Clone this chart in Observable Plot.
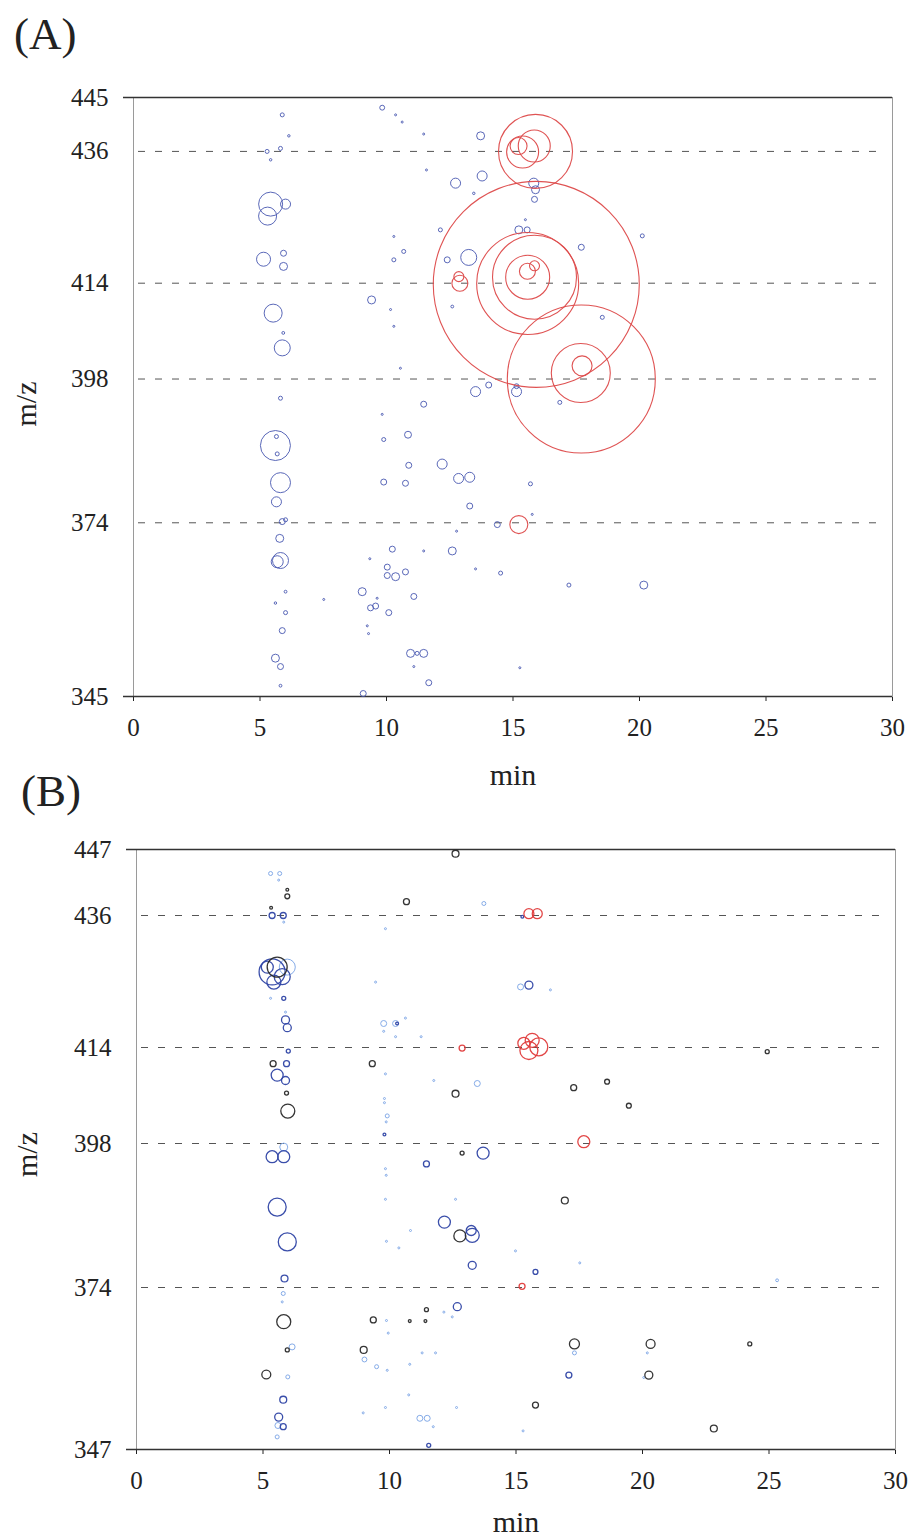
<!DOCTYPE html>
<html>
<head>
<meta charset="utf-8">
<script src="https://cdn.jsdelivr.net/npm/d3@7"></script>
<script src="https://cdn.jsdelivr.net/npm/@observablehq/plot@0.6"></script>
<style>
  html, body { margin: 0; padding: 0; background: #fff; }
  #page { position: relative; width: 911px; height: 1538px; overflow: hidden; font-family: "Liberation Serif", "Times New Roman", serif; }
  .tag { position: absolute; font-size: 45px; color: #222; line-height: 1; z-index: 5; }
  .panel { position: absolute; left: 0; z-index: 1; }
</style>
</head>
<body>
<div id="page">
  <div id="panelA" class="panel" style="top:0px;"></div>
  <div id="panelB" class="panel" style="top:790px;"></div>
  <div class="tag" style="left:14px; top:12px;">(A)</div>
  <div class="tag" style="left:21px; top:769px;">(B)</div>
</div>
<script>
// ---------- axes / reference values ----------
const xTicks = [0, 5, 10, 15, 20, 25, 30];
const yTicksA = [445, 436, 414, 398, 374, 345];
const yTicksB = [447, 436, 414, 398, 374, 347];
const refLines = [436, 414, 398, 374];

// ---------- Panel A : [min, m/z, intensity] ----------
const A_red = [
  [15.89, 436.0, 1369], [15.38, 435.9, 256], [15.84, 436.9, 256], [15.22, 436.9, 72],
  [15.92, 413.8, 10609], [15.58, 413.95, 2601], [15.85, 415.0, 1764], [15.58, 415.0, 484],
  [15.57, 416.0, 64], [15.85, 416.9, 25], [12.90, 414.0, 64], [12.86, 415.1, 25],
  [17.70, 398.0, 5476], [17.68, 399.0, 870], [17.73, 400.2, 100],
  [15.23, 373.7, 81]
];
const A_blue = [
  [5.88, 442.1, 4], [6.14, 438.6, 1.5], [5.28, 436.0, 4], [5.81, 436.5, 4], [5.42, 434.6, 1.5],
  [5.42, 427.2, 144], [6.01, 427.2, 25], [5.30, 425.2, 81], [5.14, 418.0, 49], [5.93, 419.0, 9],
  [5.93, 416.8, 16], [5.52, 409.0, 81], [5.92, 405.7, 2], [5.88, 403.2, 64], [5.81, 394.8, 4],
  [5.61, 386.9, 225], [5.65, 388.4, 4], [5.68, 385.5, 4], [5.81, 380.7, 100], [5.65, 377.5, 25],
  [5.88, 374.2, 9], [6.01, 374.5, 4], [5.78, 371.4, 16], [5.81, 367.7, 64], [5.68, 367.5, 36],
  [6.01, 362.5, 2], [5.61, 360.6, 1.5], [6.01, 359.0, 4], [5.88, 356.0, 9], [5.61, 351.4, 16],
  [5.81, 350.0, 9], [5.81, 346.8, 2],
  [9.83, 443.3, 6], [10.36, 442.1, 1], [10.62, 440.9, 1], [11.47, 438.9, 1], [13.72, 438.6, 16],
  [12.73, 430.7, 25], [13.78, 431.9, 25], [13.45, 429.0, 1.5], [15.82, 430.7, 25], [15.89, 429.6, 16],
  [15.85, 428.0, 9], [15.23, 422.9, 16], [15.56, 422.9, 9], [15.49, 424.6, 1], [11.58, 432.9, 1],
  [12.13, 422.9, 4], [10.29, 421.8, 1], [10.68, 419.3, 4], [10.29, 417.9, 4], [12.40, 417.9, 9],
  [13.25, 418.3, 64], [9.41, 411.2, 16], [12.60, 410.1, 2], [10.16, 409.6, 1], [10.29, 406.8, 1],
  [10.55, 399.8, 1], [18.53, 408.3, 4], [20.11, 421.9, 4], [17.70, 420.0, 9], [9.83, 392.1, 1],
  [11.47, 393.8, 9], [13.52, 395.9, 25], [14.04, 397.0, 9], [15.14, 395.9, 25], [15.14, 396.8, 6],
  [16.85, 394.1, 4], [9.89, 387.9, 4], [10.85, 388.7, 12], [12.20, 383.8, 25], [10.88, 383.6, 9],
  [9.89, 380.8, 9], [10.75, 380.6, 9], [12.85, 381.4, 25], [13.29, 381.6, 25], [13.29, 376.8, 9],
  [15.69, 380.5, 4], [15.76, 375.4, 1], [14.38, 373.7, 9], [12.77, 372.6, 1], [12.60, 369.3, 16],
  [13.52, 366.3, 1], [14.51, 365.6, 4], [17.21, 363.6, 4], [20.17, 363.6, 16], [15.27, 349.8, 1],
  [10.23, 369.6, 9], [11.47, 369.3, 1], [9.34, 368.0, 1], [10.03, 366.6, 9], [10.36, 365.0, 16],
  [10.75, 365.8, 9], [10.03, 365.2, 9], [11.08, 361.7, 9], [9.04, 362.5, 16], [9.63, 361.4, 1],
  [9.37, 359.8, 9], [9.57, 360.1, 9], [10.09, 359.0, 9], [9.24, 356.8, 1], [9.29, 355.5, 1],
  [7.52, 361.2, 1], [10.95, 352.2, 16], [11.47, 352.2, 16], [11.21, 352.2, 4], [11.08, 350.0, 1],
  [11.67, 347.3, 9], [9.08, 345.5, 9]
];

// ---------- Panel B : [min, m/z, intensity] ----------
const B_darkblue = [
  [5.36, 426.6, 169], [5.43, 424.9, 49], [5.76, 425.8, 64], [5.17, 427.4, 36], [5.36, 436.0, 9],
  [5.80, 436.0, 9], [5.82, 422.2, 4], [5.89, 418.6, 16], [5.96, 417.3, 16], [6.00, 413.4, 4],
  [5.93, 411.3, 9], [5.56, 409.4, 36], [5.89, 408.5, 16], [5.36, 395.8, 36], [5.82, 395.8, 36],
  [11.46, 394.6, 9], [13.70, 396.4, 36], [12.17, 384.9, 36], [13.27, 382.7, 49], [13.23, 383.5, 25],
  [13.27, 377.7, 16], [15.77, 376.6, 6], [12.68, 370.8, 16], [5.56, 387.4, 81], [5.96, 381.6, 81],
  [5.85, 375.5, 12], [5.80, 355.3, 12], [5.62, 352.4, 16], [5.80, 350.8, 9], [15.51, 424.4, 16],
  [17.09, 359.4, 9], [11.55, 347.7, 4], [9.80, 399.5, 2], [10.30, 418.0, 2], [15.25, 435.8, 2]
];
const B_lightblue = [
  [5.30, 443.0, 4], [5.66, 443.0, 4], [5.62, 441.9, 1], [5.82, 434.9, 1], [5.96, 427.4, 64],
  [5.30, 422.2, 1], [5.89, 419.9, 1], [9.45, 424.9, 1], [9.84, 433.8, 1], [13.73, 438.0, 4],
  [15.18, 424.1, 9], [16.36, 423.6, 1], [9.77, 418.0, 9], [10.24, 418.0, 9], [10.63, 418.9, 1],
  [9.77, 416.7, 1], [10.24, 415.8, 1], [11.25, 415.8, 1], [9.84, 409.6, 1], [11.75, 408.5, 1],
  [13.47, 408.0, 9], [9.80, 405.5, 1], [9.80, 404.8, 1], [9.91, 402.6, 4], [9.87, 401.6, 1],
  [5.82, 397.4, 16], [9.84, 393.8, 1], [9.87, 392.7, 1], [9.84, 388.7, 1], [12.61, 388.7, 1],
  [10.83, 383.5, 1], [9.88, 381.7, 1], [10.37, 380.6, 1], [14.98, 380.1, 1], [17.52, 378.1, 1],
  [25.32, 375.2, 2], [12.15, 369.9, 1], [12.48, 369.1, 1], [9.88, 368.5, 1], [9.95, 366.4, 1],
  [5.80, 373.0, 4], [5.76, 371.6, 1], [6.15, 364.1, 9], [5.98, 359.1, 4], [9.01, 362.0, 6],
  [9.49, 360.8, 4], [9.91, 360.2, 1], [10.80, 361.2, 1], [11.29, 363.1, 1], [11.82, 363.1, 1],
  [10.76, 356.1, 1], [9.84, 354.0, 1], [8.96, 353.1, 1], [12.65, 354.0, 1], [11.20, 352.2, 9],
  [11.49, 352.2, 9], [11.73, 350.8, 1], [5.59, 351.0, 9], [5.56, 349.1, 4], [17.31, 363.1, 4],
  [20.19, 363.1, 1], [20.05, 359.0, 1], [15.28, 350.1, 1]
];
const B_black = [
  [12.61, 446.3, 12], [5.96, 440.3, 2], [5.96, 439.2, 6], [10.67, 438.3, 9], [5.32, 437.3, 2],
  [5.56, 427.4, 100], [5.40, 411.3, 9], [9.32, 411.3, 9], [5.93, 406.4, 4], [5.98, 403.4, 49],
  [12.61, 406.3, 12], [17.28, 407.3, 9], [18.60, 408.3, 6], [19.46, 404.3, 6], [24.93, 413.3, 4],
  [12.87, 396.4, 4], [16.93, 388.5, 12], [12.78, 382.6, 36], [5.82, 368.3, 49], [9.36, 368.6, 9],
  [10.80, 368.4, 2], [11.42, 368.4, 2], [11.46, 370.3, 4], [8.98, 363.6, 12], [5.96, 363.6, 4],
  [5.13, 359.5, 20], [17.31, 364.6, 25], [20.32, 364.6, 20], [24.24, 364.6, 4], [20.25, 359.4, 16],
  [15.77, 354.4, 9], [22.82, 350.5, 12]
];
const B_red = [
  [15.51, 436.3, 25], [15.84, 436.3, 25], [12.87, 413.9, 9], [15.51, 413.5, 81], [15.90, 414.1, 81],
  [15.31, 414.7, 36], [15.64, 415.2, 49], [17.68, 398.3, 36], [15.24, 374.2, 9]
];

// ---------- drawing ----------
const toRows = (arr, group) => arr.map(([min, mz, intensity]) => ({min, mz, intensity, group}));

function panel({series, yTicks, height, marginTop, marginBottom, marginLeft, marginRight,
                minDy, mzDx, mzDy}) {
  const yDomain = [d3.min(yTicks), d3.max(yTicks)];
  const marks = [
    Plot.frame({stroke: "#9a9a9a", strokeWidth: 1}),
    Plot.ruleY(yDomain, {stroke: "#333", strokeWidth: 1.3, insetLeft: -10}),
    Plot.ruleY(refLines, {stroke: "#555", strokeWidth: 1, strokeDasharray: "7,10", insetLeft: 5, insetRight: 8})
  ];
  for (const s of series) {
    marks.push(Plot.dot(toRows(s.data, s.name), {
      x: "min", y: "mz", r: "intensity",
      stroke: s.color, strokeWidth: s.width, fill: "none", strokeOpacity: s.opacity
    }));
  }
  marks.push(Plot.text(["min"], {frameAnchor: "bottom", textAnchor: "middle", lineAnchor: "middle",
    dy: minDy, fontSize: 30, fill: "#222"}));
  marks.push(Plot.text(["m/z"], {frameAnchor: "left", textAnchor: "middle", lineAnchor: "middle",
    dx: mzDx, dy: mzDy, rotate: -90, fontSize: 30, fill: "#222"}));
  return Plot.plot({
    width: 911, height, marginTop, marginBottom, marginLeft, marginRight,
    style: {fontFamily: "'Liberation Serif', 'Times New Roman', serif", fontSize: "25px", color: "#222", background: "white", overflow: "visible"},
    x: {domain: [0, 30], ticks: xTicks, tickSize: 5, tickPadding: 17, label: null},
    y: {domain: yDomain, ticks: yTicks, tickSize: 0, tickPadding: 25, label: null},
    r: {type: "sqrt", domain: [0, 10000], range: [0, 100]},
    marks
  });
}

document.getElementById("panelA").appendChild(panel({
  series: [
    {name: "blue", data: A_blue, color: "#4858b0", width: 1, opacity: 0.9},
    {name: "red", data: A_red, color: "#dd4a4a", width: 1.1, opacity: 0.95}
  ],
  yTicks: yTicksA, height: 790, marginTop: 97, marginBottom: 94, marginLeft: 133, marginRight: 19,
  minDy: 79, mzDx: -107, mzDy: 7
}));

document.getElementById("panelB").appendChild(panel({
  series: [
    {name: "light blue", data: B_lightblue, color: "#7ea6e6", width: 1, opacity: 0.95},
    {name: "dark blue", data: B_darkblue, color: "#2f45a5", width: 1.3, opacity: 0.95},
    {name: "black", data: B_black, color: "#2a2a2a", width: 1.3, opacity: 0.95},
    {name: "red", data: B_red, color: "#e03c3c", width: 1.3, opacity: 0.95}
  ],
  yTicks: yTicksB, height: 748, marginTop: 59, marginBottom: 89, marginLeft: 136, marginRight: 16,
  minDy: 73, mzDx: -109, mzDy: 5
}));
</script>
</body>
</html>
